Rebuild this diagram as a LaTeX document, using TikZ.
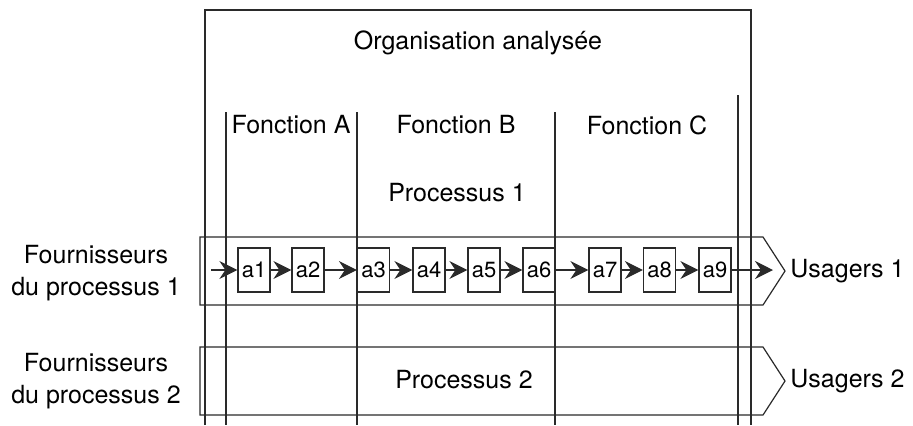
\documentclass[tikz,border=0pt]{standalone}
\usepackage{fontspec}
\setmainfont{TeX Gyre Heros}
\usetikzlibrary{arrows.meta}
\definecolor{sline}{HTML}{2A2A2A}

\begin{document}
\begin{tikzpicture}[x=0.5pt, y=-0.5pt,
    ACT/.style={rectangle, draw=sline, fill=white, line width=0.6pt, minimum width=16pt, minimum height=22pt, inner sep=0pt, font=\fontsize{11}{13}\selectfont},
    LBL/.style={inner sep=0pt, font=\fontsize{12.5}{16}\selectfont, align=center},
    FLW/.style={draw=sline, line width=0.6pt, -{Stealth[length=9pt,width=9pt,inset=3pt]}},
    WALL/.style={draw=sline, line width=0.6pt}
    ]
        \useasboundingbox (0,0) rectangle (913,425);
        % process arrows
        \draw[WALL] (200,237) -- (763,237) -- (785,271) -- (763,305) -- (200,305) -- cycle;
        \draw[WALL] (200,347) -- (763,347) -- (785,381) -- (763,415) -- (200,415) -- cycle;
        % organisation and functions
        \draw[WALL] (205,425) -- (205,10) -- (751,10) -- (751,425);
        \draw[WALL] (226,112) -- (226,425);
        \draw[WALL] (357,112) -- (357,425);
        \draw[WALL] (555,112) -- (555,425);
        \draw[WALL] (738,95) -- (738,425);
        \node[LBL] (org) at (478,43) {Organisation analysée};
        \node[LBL] (fA) at (291,125) {Fonction A};
        \node[LBL] (fB) at (456,125) {Fonction B};
        \node[LBL] (fC) at (647,125) {Fonction C};
        \node[LBL] (p1) at (457,193) {Processus 1};
        \node[LBL] (p2) at (464,380) {Processus 2};
        \node[LBL] (four1) at (96,273) {Fournisseurs\\du processus 1};
        \node[LBL] (four2) at (96,381) {Fournisseurs\\du processus 2};
        \node[LBL, anchor=west] (usa1) at (790,271) {Usagers 1};
        \node[LBL, anchor=west] (usa2) at (790,381) {Usagers 2};
        % activities
        \coordinate (in1) at (211,270);
        \coordinate (out1) at (773,270);
        \node[ACT] (a1) at (254,270) {a1};
        \node[ACT] (a2) at (308,270) {a2};
        \node[ACT] (a3) at (373.5,270) {a3};
        \node[ACT] (a4) at (429,270) {a4};
        \node[ACT] (a5) at (484,270) {a5};
        \node[ACT] (a6) at (539,270) {a6};
        \node[ACT] (a7) at (605,270) {a7};
        \node[ACT] (a8) at (659.5,270) {a8};
        \node[ACT] (a9) at (715,270) {a9};
        \draw[FLW] (in1) -- (a1.west);
        \draw[FLW] (a1.east) -- (a2.west);
        \draw[FLW] (a2.east) -- (a3.west);
        \draw[FLW] (a3.east) -- (a4.west);
        \draw[FLW] (a4.east) -- (a5.west);
        \draw[FLW] (a5.east) -- (a6.west);
        \draw[FLW] (a6.east) -- (a7.west);
        \draw[FLW] (a7.east) -- (a8.west);
        \draw[FLW] (a8.east) -- (a9.west);
        \draw[FLW] (a9.east) -- (out1);
    \end{tikzpicture}
\end{document}
